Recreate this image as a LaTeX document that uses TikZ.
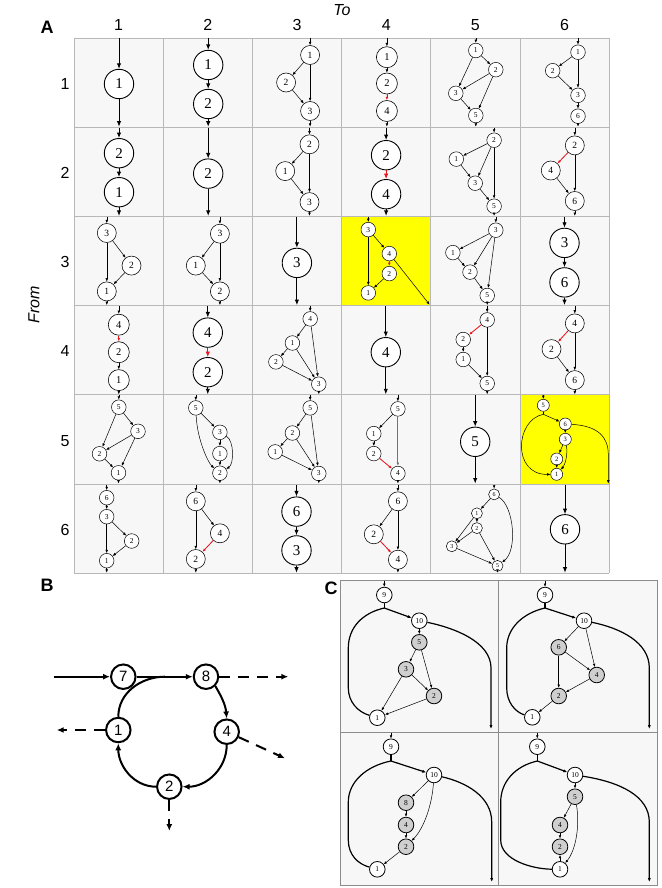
\documentclass[tikz,border=0pt]{standalone}
\usepackage{fontspec}
\setmainfont{Liberation Serif}
\newfontfamily\lsans{Liberation Sans}
\usetikzlibrary{arrows.meta}
\definecolor{gridc}{HTML}{B8B8B8}
\definecolor{cellbg}{HTML}{F7F7F7}
\definecolor{redarr}{HTML}{E8141E}
\definecolor{hilite}{HTML}{FFFF00}
\definecolor{cgray}{HTML}{CFCFCF}
\newcommand\cio[5]{%
  \coordinate (#1i) at (#3,0.5);
  \coordinate (#1o) at (#5,88.7);
  \draw[e] (#1i) -- (#1#2);
  \draw[e] (#1#4) -- (#1o);}
\newcommand\cin[3]{%
  \coordinate (#1i) at (#3,0.5);
  \draw[e] (#1i) -- (#1#2);}
\tikzset{
  e/.style={draw, line width=0.5pt, -{Latex[length=3.4pt,width=2.7pt]}},
  er/.style={e, draw=redarr, fill=redarr, line width=0.8pt},
  ln/.style={draw, line width=0.5pt},
  bigc/.style={e/.style={draw, line width=0.9pt, -{Latex[length=5.5pt,width=4.4pt]}}},
  nd/.style={circle, draw, fill=white, inner sep=0pt, line width=0.5pt},
  big/.style={nd, minimum size=29.4pt, line width=0.9pt, font=\fontsize{15}{15}\selectfont},
  ten/.style={nd, minimum size=21pt, line width=0.6pt, font=\fontsize{10.5}{10.5}\selectfont},
  nine/.style={nd, minimum size=19pt, line width=0.55pt, font=\fontsize{9.5}{9.5}\selectfont},
  sev/.style={nd, minimum size=14.6pt, font=\fontsize{7.5}{7.5}\selectfont},
  six/.style={nd, minimum size=12pt, font=\fontsize{6.5}{6.5}\selectfont},
  five/.style={nd, minimum size=11pt, font=\fontsize{6}{6}\selectfont},
  lab/.style={font=\lsans\fontsize{16}{16}\selectfont, inner sep=0pt},
  ttl/.style={font=\lsans\bfseries\fontsize{18}{18}\selectfont, inner sep=0pt},
  bn/.style={circle, draw, fill=white, inner sep=0pt, line width=2pt, minimum size=24.5pt, font=\lsans\fontsize{15}{15}\selectfont},
  ba/.style={draw, line width=2pt, -{Latex[length=7pt,width=6pt]}},
  bl/.style={draw, line width=2pt},
  bd/.style={ba, dash pattern=on 11pt off 8pt},
  cw/.style={circle, draw, fill=white, inner sep=0pt, line width=0.8pt, minimum size=15.6pt, font=\fontsize{7.5}{7.5}\selectfont},
  cg/.style={cw, fill=cgray},
  ce/.style={draw, line width=0.5pt, -{Latex[length=3.2pt,width=2.6pt]}},
  ct/.style={draw, line width=1.2pt},
  cta/.style={ct, -{Latex[length=4pt,width=3.2pt]}},
}
\begin{document}
\begin{tikzpicture}[x=1pt,y=-1pt]
\useasboundingbox (0,0) rectangle (661,888);
\fill[white] (0,0) rectangle (661,888);
% ---------- panel A grid ----------
\fill[cellbg] (74,38) rectangle (609.2,573.2);
\fill[hilite] (341.6,216.4) rectangle (430.8,305.6);
\fill[hilite] (520,394.8) rectangle (609.2,484);
\foreach \i in {0,...,6} {
  \draw[gridc, line width=0.8pt] (74+89.2*\i,38) -- (74+89.2*\i,573.2);
  \draw[gridc, line width=0.8pt] (74,38+89.2*\i) -- (609.2,38+89.2*\i);
}
\node[lab, font=\lsans\itshape\fontsize{16}{16}\selectfont] (tto) at (342,10) {To};
\node[ttl] (tA) at (47,27) {A};
\node[lab] (col1) at (118.6,25) {1};
\node[lab] (col2) at (207.8,25) {2};
\node[lab] (col3) at (297,25) {3};
\node[lab] (col4) at (386.2,25) {4};
\node[lab] (col5) at (475.4,25) {5};
\node[lab] (col6) at (564.6,25) {6};
\node[lab, rotate=90, font=\lsans\itshape\fontsize{16}{16}\selectfont] (tfrom) at (34,305) {From};
\node[lab] (row1) at (65,84) {1};
\node[lab] (row2) at (65,173) {2};
\node[lab] (row3) at (65,262) {3};
\node[lab] (row4) at (65,351) {4};
\node[lab] (row5) at (65,441) {5};
\node[lab] (row6) at (65,530) {6};

% ===== row 1 =====
\begin{scope}[shift={(74,38)},bigc]
\node[big] (a11n1) at (45,46) {1};
\cio{a11}{n1}{45}{n1}{45}
\end{scope}
\begin{scope}[shift={(163.2,38)},bigc]
\node[big] (a12n1) at (45,27) {1};
\node[big] (a12n2) at (45,66) {2};
\draw[e] (a12n1) -- (a12n2);
\cio{a12}{n1}{45}{n2}{45}
\end{scope}
\begin{scope}[shift={(252.4,38)}]
\node[nine] (a13n1) at (57.7,17) {1};
\node[nine] (a13n2) at (33.7,44.5) {2};
\node[nine] (a13n3) at (57.7,73) {3};
\draw[e] (a13n1) -- (a13n2);
\draw[e] (a13n1) -- (a13n3);
\draw[e] (a13n2) -- (a13n3);
\cio{a13}{n1}{57.7}{n3}{57.7}
\end{scope}
\begin{scope}[shift={(341.6,38)}]
\node[ten] (a14n1) at (45.3,19.2) {1};
\node[ten] (a14n2) at (45.3,45.5) {2};
\node[ten] (a14n4) at (45.3,73) {4};
\draw[e] (a14n1) -- (a14n2);
\draw[er] (a14n2) -- (a14n4);
\cio{a14}{n1}{45.3}{n4}{45.3}
\end{scope}
\begin{scope}[shift={(430.8,38)}]
\node[sev] (a15n1) at (45,12.5) {1};
\node[sev] (a15n2) at (65,31.7) {2};
\node[sev] (a15n3) at (25,55.3) {3};
\node[sev] (a15n5) at (45,77.5) {5};
\draw[e] (a15n1) -- (a15n2);
\draw[e] (a15n1) -- (a15n3);
\draw[e] (a15n2) -- (a15n3);
\draw[e] (a15n2) -- (a15n5);
\draw[e] (a15n3) -- (a15n5);
\cio{a15}{n1}{45}{n5}{45}
\end{scope}
\begin{scope}[shift={(520,38)}]
\node[sev] (a16n1) at (58,14.2) {1};
\node[sev] (a16n2) at (32.7,32.7) {2};
\node[sev] (a16n3) at (58,57.3) {3};
\node[sev] (a16n6) at (58,78.2) {6};
\draw[e] (a16n1) -- (a16n2);
\draw[e] (a16n1) -- (a16n3);
\draw[e] (a16n2) -- (a16n3);
\draw[e] (a16n3) -- (a16n6);
\cio{a16}{n1}{58}{n6}{58}
\end{scope}

% ===== row 2 =====
\begin{scope}[shift={(74,127.2)},bigc]
\node[big] (a21n2) at (45,26) {2};
\node[big] (a21n1) at (45,65) {1};
\draw[e] (a21n2) -- (a21n1);
\cio{a21}{n2}{45}{n1}{45}
\end{scope}
\begin{scope}[shift={(163.2,127.2)},bigc]
\node[big] (a22n2) at (45,46.4) {2};
\cio{a22}{n2}{45}{n2}{45}
\end{scope}
\begin{scope}[shift={(252.4,127.2)}]
\node[nine] (a23n2) at (57.1,17.1) {2};
\node[nine] (a23n1) at (32.8,43.9) {1};
\node[nine] (a23n3) at (57.1,74.9) {3};
\draw[e] (a23n2) -- (a23n1);
\draw[e] (a23n2) -- (a23n3);
\draw[e] (a23n1) -- (a23n3);
\cio{a23}{n2}{57.1}{n3}{57.1}
\end{scope}
\begin{scope}[shift={(341.6,127.2)},bigc]
\node[big] (a24n2) at (44.5,28) {2};
\node[big] (a24n4) at (44.5,67) {4};
\draw[er] (a24n2) -- (a24n4);
\cio{a24}{n2}{44.5}{n4}{44.5}
\end{scope}
\begin{scope}[shift={(430.8,127.2)}]
\node[sev] (a25n2) at (63.3,13) {2};
\node[sev] (a25n1) at (25.5,31.9) {1};
\node[sev] (a25n3) at (44.4,56) {3};
\node[sev] (a25n5) at (63.3,79) {5};
\draw[e] (a25n2) -- (a25n1);
\draw[e] (a25n2) -- (a25n3);
\draw[e] (a25n2) -- (a25n5);
\draw[e] (a25n1) -- (a25n3);
\draw[e] (a25n3) -- (a25n5);
\cio{a25}{n2}{63.3}{n5}{63.3}
\end{scope}
\begin{scope}[shift={(520,127.2)}]
\node[nine] (a26n2) at (54.8,18.2) {2};
\node[nine] (a26n4) at (30.8,43.3) {4};
\node[nine] (a26n6) at (54.8,73.8) {6};
\draw[er] (a26n2) -- (a26n4);
\draw[e] (a26n2) -- (a26n6);
\draw[e] (a26n4) -- (a26n6);
\cio{a26}{n2}{54.8}{n6}{54.8}
\end{scope}

% ===== row 3 =====
\begin{scope}[shift={(74,216.4)}]
\node[nine] (a31n3) at (32.8,16.6) {3};
\node[nine] (a31n2) at (57.5,49.2) {2};
\node[nine] (a31n1) at (32.8,75) {1};
\draw[e] (a31n3) -- (a31n2);
\draw[e] (a31n3) -- (a31n1);
\draw[e] (a31n2) -- (a31n1);
\cio{a31}{n3}{32.8}{n1}{32.8}
\end{scope}
\begin{scope}[shift={(163.2,216.4)}]
\node[nine] (a32n3) at (56.7,17.3) {3};
\node[nine] (a32n1) at (32.6,49.2) {1};
\node[nine] (a32n2) at (56.7,75) {2};
\draw[e] (a32n3) -- (a32n1);
\draw[e] (a32n3) -- (a32n2);
\draw[e] (a32n1) -- (a32n2);
\cio{a32}{n3}{56.7}{n2}{56.7}
\end{scope}
\begin{scope}[shift={(252.4,216.4)},bigc]
\node[big] (a33n3) at (44.5,46.5) {3};
\cio{a33}{n3}{44.5}{n3}{44.5}
\end{scope}
\begin{scope}[shift={(341.6,216.4)}]
\node[sev] (a34n3) at (26.7,13.2) {3};
\node[sev] (a34n4) at (47.7,37.2) {4};
\node[sev] (a34n2) at (47.7,57.2) {2};
\node[sev] (a34n1) at (26.7,76.5) {1};
\draw[e] (a34n3) -- (a34n4);
\draw[e] (a34n3) -- (a34n1);
\draw[er] (a34n4) -- (a34n2);
\draw[e] (a34n2) -- (a34n1);
\cin{a34}{n3}{26.7}
\coordinate (a34o) at (88,88.3);
\draw[e] (a34n4) -- (a34o);
\end{scope}
\begin{scope}[shift={(430.8,216.4)}]
\node[sev] (a35n3) at (65,13.8) {3};
\node[sev] (a35n1) at (22.1,36.2) {1};
\node[sev] (a35n2) at (39.2,55.7) {2};
\node[sev] (a35n5) at (56.4,79.1) {5};
\draw[e] (a35n3) -- (a35n1);
\draw[e] (a35n3) -- (a35n2);
\draw[e] (a35n3) -- (a35n5);
\draw[e] (a35n1) -- (a35n2);
\draw[e] (a35n2) -- (a35n5);
\cio{a35}{n3}{65}{n5}{56.4}
\end{scope}
\begin{scope}[shift={(520,216.4)},bigc]
\node[big] (a36n3) at (44.5,26.5) {3};
\node[big] (a36n6) at (44.5,66) {6};
\draw[e] (a36n3) -- (a36n6);
\cio{a36}{n3}{44.5}{n6}{44.5}
\end{scope}

% ===== row 4 =====
\begin{scope}[shift={(74,305.6)}]
\node[ten] (a41n4) at (44.8,19.1) {4};
\node[ten] (a41n2) at (44.8,46.6) {2};
\node[ten] (a41n1) at (44.8,74.5) {1};
\draw[er] (a41n4) -- (a41n2);
\draw[e] (a41n2) -- (a41n1);
\cio{a41}{n4}{44.8}{n1}{44.8}
\end{scope}
\begin{scope}[shift={(163.2,305.6)},bigc]
\node[big] (a42n4) at (44.6,27) {4};
\node[big] (a42n2) at (44.6,66.6) {2};
\draw[er] (a42n4) -- (a42n2);
\cio{a42}{n4}{44.6}{n2}{44.6}
\end{scope}
\begin{scope}[shift={(252.4,305.6)}]
\node[sev] (a43n4) at (57.8,13.3) {4};
\node[sev] (a43n1) at (40,37.4) {1};
\node[sev] (a43n2) at (23.5,56.3) {2};
\node[sev] (a43n3) at (66.4,78.6) {3};
\draw[e] (a43n4) -- (a43n1);
\draw[e] (a43n4) -- (a43n3);
\draw[e] (a43n1) -- (a43n2);
\draw[e] (a43n1) -- (a43n3);
\draw[e] (a43n2) -- (a43n3);
\cio{a43}{n4}{57.8}{n3}{66.4}
\end{scope}
\begin{scope}[shift={(341.6,305.6)},bigc]
\node[big] (a44n4) at (44.2,46.6) {4};
\cio{a44}{n4}{44.2}{n4}{44.2}
\end{scope}
\begin{scope}[shift={(430.8,305.6)}]
\node[sev] (a45n4) at (56.4,14.3) {4};
\node[sev] (a45n2) at (32.4,33.9) {2};
\node[sev] (a45n1) at (32.4,53.9) {1};
\node[sev] (a45n5) at (56.4,77.9) {5};
\draw[er] (a45n4) -- (a45n2);
\draw[e] (a45n4) -- (a45n5);
\draw[e] (a45n2) -- (a45n1);
\draw[e] (a45n1) -- (a45n5);
\cio{a45}{n4}{56.4}{n5}{56.4}
\end{scope}
\begin{scope}[shift={(520,305.6)}]
\node[nine] (a46n4) at (54.8,17.8) {4};
\node[nine] (a46n2) at (31.5,43.5) {2};
\node[nine] (a46n6) at (54.8,74.5) {6};
\draw[er] (a46n4) -- (a46n2);
\draw[e] (a46n4) -- (a46n6);
\draw[e] (a46n2) -- (a46n6);
\cio{a46}{n4}{54.8}{n6}{54.8}
\end{scope}

% ===== row 5 =====
\begin{scope}[shift={(74,394.8)}]
\node[sev] (a51n5) at (44.8,12.4) {5};
\node[sev] (a51n3) at (64,36.5) {3};
\node[sev] (a51n2) at (25.5,59) {2};
\node[sev] (a51n1) at (44.5,78) {1};
\draw[e] (a51n5) -- (a51n3);
\draw[e] (a51n5) -- (a51n2);
\draw[e] (a51n3) -- (a51n2);
\draw[e] (a51n3) -- (a51n1);
\draw[e] (a51n2) -- (a51n1);
\cio{a51}{n5}{44.8}{n1}{44.5}
\end{scope}
\begin{scope}[shift={(163.2,394.8)}]
\node[sev] (a52n5) at (32.6,13.1) {5};
\node[sev] (a52n3) at (56.7,37.5) {3};
\node[sev] (a52n1) at (56.7,58.8) {1};
\node[sev] (a52n2) at (56.7,78.4) {2};
\draw[e] (a52n5) -- (a52n3);
\draw[e] (a52n5) .. controls (34,45) and (45,68) .. (a52n2);
\draw[e] (a52n3) -- (a52n1);
\draw[e] (a52n1) -- (a52n2);
\draw[e] (a52n3) .. controls (71,46) and (71,69) .. (a52n2);
\cio{a52}{n5}{32.6}{n2}{56.7}
\end{scope}
\begin{scope}[shift={(252.4,394.8)}]
\node[sev] (a53n5) at (57.8,13.1) {5};
\node[sev] (a53n2) at (40,38.2) {2};
\node[sev] (a53n1) at (22.8,57.1) {1};
\node[sev] (a53n3) at (66.4,78.7) {3};
\draw[e] (a53n5) -- (a53n2);
\draw[e] (a53n5) -- (a53n3);
\draw[e] (a53n2) -- (a53n1);
\draw[e] (a53n2) -- (a53n3);
\draw[e] (a53n1) -- (a53n3);
\cio{a53}{n5}{57.8}{n3}{66.4}
\end{scope}
\begin{scope}[shift={(341.6,394.8)}]
\node[sev] (a54n5) at (56.3,14.1) {5};
\node[sev] (a54n1) at (32.2,38.8) {1};
\node[sev] (a54n2) at (32.2,58.8) {2};
\node[sev] (a54n4) at (56.3,78.7) {4};
\draw[e] (a54n5) -- (a54n1);
\draw[e, line width=0.9pt, draw=black!55] (a54n5) -- (a54n4);
\draw[e] (a54n1) -- (a54n2);
\draw[er] (a54n2) -- (a54n4);
\cio{a54}{n5}{56.3}{n4}{56.3}
\end{scope}
\begin{scope}[shift={(430.8,394.8)},bigc]
\node[big] (a55n5) at (44.4,47) {5};
\cio{a55}{n5}{44.4}{n5}{44.4}
\end{scope}
\begin{scope}[shift={(520,394.8)}]
\node[six] (a56n5) at (23.3,10.5) {5};
\node[six] (a56n6) at (45.3,29.2) {6};
\node[six] (a56n3) at (45.3,44.5) {3};
\node[six] (a56n2) at (36.7,64.2) {2};
\node[six] (a56n1) at (36.7,79.5) {1};
\coordinate (a56j) at (23.3,19.5);
\cin{a56}{n5}{23.3}
\draw[ln] (a56n5) -- (a56j);
\draw[e] (a56j) -- (a56n6);
\draw[e] (a56j) .. controls (-5,25) and (-8,80) .. (a56n1);
\draw[e] (a56n6) -- (a56n3);
\draw[e] (a56n3) -- (a56n2);
\draw[e] (a56n3) .. controls (48,60) and (45,70) .. (a56n1);
\draw[e] (a56n2) -- (a56n1);
\coordinate (a56o) at (88.3,88.8);
\draw[e] (a56n6) .. controls (78,31) and (88.3,42) .. (88.3,60) -- (a56o);
\end{scope}

% ===== row 6 =====
\begin{scope}[shift={(74,484)}]
\node[sev] (a61n6) at (32.7,13.7) {6};
\node[sev] (a61n3) at (32.7,32.7) {3};
\node[sev] (a61n2) at (57.7,57) {2};
\node[sev] (a61n1) at (32.7,76.7) {1};
\draw[e] (a61n6) -- (a61n3);
\draw[e] (a61n3) -- (a61n2);
\draw[e] (a61n3) -- (a61n1);
\draw[e] (a61n2) -- (a61n1);
\cio{a61}{n6}{32.7}{n1}{32.7}
\end{scope}
\begin{scope}[shift={(163.2,484)}]
\node[nine] (a62n6) at (32.6,17.3) {6};
\node[nine] (a62n4) at (56.7,49.3) {4};
\node[nine] (a62n2) at (32.6,75) {2};
\draw[e] (a62n6) -- (a62n4);
\draw[e] (a62n6) -- (a62n2);
\draw[er] (a62n4) -- (a62n2);
\cio{a62}{n6}{32.6}{n2}{32.6}
\end{scope}
\begin{scope}[shift={(252.4,484)},bigc]
\node[big] (a63n6) at (44.1,27.6) {6};
\node[big] (a63n3) at (44.1,66.4) {3};
\draw[e] (a63n6) -- (a63n3);
\cio{a63}{n6}{44.1}{n3}{44.1}
\end{scope}
\begin{scope}[shift={(341.6,484)}]
\node[nine] (a64n6) at (56.3,17.3) {6};
\node[nine] (a64n2) at (32.2,50.3) {2};
\node[nine] (a64n4) at (56.3,75.7) {4};
\draw[e] (a64n6) -- (a64n2);
\draw[e] (a64n6) -- (a64n4);
\draw[er] (a64n2) -- (a64n4);
\cio{a64}{n6}{56.3}{n4}{56.3}
\end{scope}
\begin{scope}[shift={(430.8,484)}]
\node[five] (a65n6) at (63.3,10.4) {6};
\node[five] (a65n1) at (46.1,29.3) {1};
\node[five] (a65n2) at (46.1,44.1) {2};
\node[five] (a65n3) at (21,62.3) {3};
\node[five] (a65n5) at (66.7,81.9) {5};
\draw[e] (a65n6) -- (a65n1);
\draw[e] (a65n6) .. controls (83,22) and (87,66) .. (a65n5);
\draw[e] (a65n1) -- (a65n2);
\draw[e] (a65n1) -- (a65n3);
\draw[e] (a65n2) -- (a65n3);
\draw[e] (a65n2) -- (a65n5);
\draw[e] (a65n3) -- (a65n5);
\cio{a65}{n6}{63.3}{n5}{66.7}
\end{scope}
\begin{scope}[shift={(520,484)},bigc]
\node[big] (a66n6) at (45,45.3) {6};
\cio{a66}{n6}{45}{n6}{45}
\end{scope}

% ---------- panel B ----------
\node[ttl] (tB) at (47,585) {B};
\node[bn] (b7) at (123.3,676.7) {7};
\node[bn] (b8) at (206,676.7) {8};
\node[bn] (b1) at (118.3,730) {1};
\node[bn] (b4) at (226.7,731.7) {4};
\node[bn] (b2) at (169.3,786.7) {2};
\coordinate (bin) at (54.3,676.7);
\coordinate (bj) at (165,676.7);
\coordinate (b8o) at (288.3,676.7);
\coordinate (b1o) at (56.7,730);
\coordinate (b4o) at (285,758.3);
\coordinate (b2o) at (169.3,831);
\draw[ba] (bin) -- (b7);
\draw[ba] (b7) -- (b8);
\draw[bl] (b1.north) to[out=90,in=180] (bj);
\draw[ba] (b8.south east) to[out=-60,in=95] (b4.north);
\draw[ba] (b4.south) to[out=-90,in=0] (b2.east);
\draw[ba] (b2.west) to[out=180,in=-90] (b1.south);
\draw[bd] (b8) -- (b8o);
\draw[bd] (b1) -- (b1o);
\draw[bd] (b4) -- (b4o);
\draw[bd] (b2) -- (b2o);

% ---------- panel C ----------
\node[ttl] (tC) at (331,588) {C};
\fill[cellbg] (340,580) rectangle (657,885);
\draw[black!45, line width=0.8pt] (340,580) rectangle (657,885);
\draw[black!45, line width=0.8pt] (498,580) -- (498,885);
\draw[black!45, line width=0.8pt] (340,732) -- (657,732);
% top-left
\node[cw] (c1n9) at (384.3,595) {9};
\node[cw] (c1n10) at (419.3,620.7) {10};
\node[cg] (c1n5) at (419.3,642.3) {5};
\node[cg] (c1n3) at (406,669.3) {3};
\node[cg] (c1n2) at (434,696) {2};
\node[cw] (c1n1) at (377.3,717.7) {1};
\coordinate (c1i) at (384.3,580.5);
\coordinate (c1j) at (384.3,608);
\coordinate (c1o) at (491,729);
\draw[ce] (c1i) -- (c1n9);
\draw[ct] (c1n9) -- (c1j);
\draw[cta] (c1j) -- (c1n10);
\draw[ct] (c1j) .. controls (362,613) and (348.3,628) .. (348.3,648) -- (348.3,688) .. controls (348.3,702) and (358,712) .. (c1n1);
\draw[cta] (c1n10) .. controls (455,628) and (491,642) .. (491,668) -- (c1o);
\draw[ce] (c1n10) -- (c1n5);
\draw[ce] (c1n5) -- (c1n3);
\draw[ce] (c1n5) -- (c1n2);
\draw[ce] (c1n3) -- (c1n1);
\draw[ce] (c1n3) -- (c1n2);
\draw[ce] (c1n2) -- (c1n1);
% top-right
\node[cw] (c2n9) at (545,595) {9};
\node[cw] (c2n10) at (584,620.7) {10};
\node[cg] (c2n6) at (558.7,647.3) {6};
\node[cg] (c2n4) at (596.7,675) {4};
\node[cg] (c2n2) at (558.7,696) {2};
\node[cw] (c2n1) at (532.3,717.3) {1};
\coordinate (c2i) at (545,580.5);
\coordinate (c2j) at (545,608);
\coordinate (c2o) at (649.3,729);
\draw[ce] (c2i) -- (c2n9);
\draw[ct] (c2n9) -- (c2j);
\draw[cta] (c2j) -- (c2n10);
\draw[ct] (c2j) .. controls (523,613) and (506.7,628) .. (506.7,648) -- (506.7,688) .. controls (506.7,702) and (515,712) .. (c2n1);
\draw[cta] (c2n10) .. controls (620,628) and (649.3,642) .. (649.3,668) -- (c2o);
\draw[ce] (c2n10) -- (c2n6);
\draw[ce] (c2n10) -- (c2n4);
\draw[ce] (c2n6) -- (c2n4);
\draw[ce] (c2n6) -- (c2n2);
\draw[ce] (c2n4) -- (c2n2);
\draw[ce] (c2n2) -- (c2n1);
% bottom-left
\node[cw] (c3n9) at (391,746.7) {9};
\node[cw] (c3n10) at (434,775) {10};
\node[cg] (c3n8) at (406,802.7) {8};
\node[cg] (c3n4) at (406,825) {4};
\node[cg] (c3n2) at (406,846.7) {2};
\node[cw] (c3n1) at (377.3,869.3) {1};
\coordinate (c3i) at (391,732.5);
\coordinate (c3j) at (391,761);
\coordinate (c3o) at (491.7,882);
\draw[ce] (c3i) -- (c3n9);
\draw[ct] (c3n9) -- (c3j);
\draw[cta] (c3j) -- (c3n10);
\draw[ct] (c3j) .. controls (366,766) and (348.3,782) .. (348.3,802) -- (348.3,840) .. controls (348.3,855) and (358,864) .. (c3n1);
\draw[cta] (c3n10) .. controls (465,782) and (491.7,796) .. (491.7,822) -- (c3o);
\draw[ce] (c3n10) -- (c3n8);
\draw[ce] (c3n10) .. controls (432,805) and (424,828) .. (c3n2);
\draw[ce] (c3n8) -- (c3n4);
\draw[ce] (c3n4) -- (c3n2);
\draw[ce] (c3n2) -- (c3n1);
% bottom-right
\node[cw] (c4n9) at (537.3,746.7) {9};
\node[cw] (c4n10) at (575,775) {10};
\node[cg] (c4n5) at (575,796.7) {5};
\node[cg] (c4n4) at (560,825) {4};
\node[cg] (c4n2) at (560,846.7) {2};
\node[cw] (c4n1) at (560,869.3) {1};
\coordinate (c4i) at (537.3,732.5);
\coordinate (c4j) at (537.3,761);
\coordinate (c4o) at (649.3,882);
\draw[ce] (c4i) -- (c4n9);
\draw[ct] (c4n9) -- (c4j);
\draw[cta] (c4j) -- (c4n10);
\draw[ct] (c4j) .. controls (515,766) and (500.7,782) .. (500.7,802) -- (500.7,840) .. controls (500.7,860) and (532,869) .. (c4n1);
\draw[cta] (c4n10) .. controls (620,782) and (649.3,796) .. (649.3,822) -- (c4o);
\draw[ce] (c4n10) -- (c4n5);
\draw[ce] (c4n5) -- (c4n4);
\draw[ce] (c4n5) .. controls (580,825) and (576,850) .. (c4n1);
\draw[ce] (c4n4) -- (c4n2);
\draw[ce] (c4n1) -- (c4n2);
\end{tikzpicture}
\end{document}
